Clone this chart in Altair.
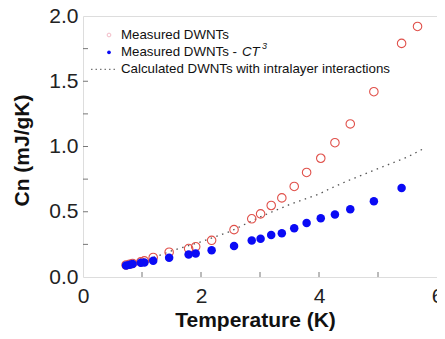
import altair as alt
import pandas as pd

# Measured temperatures (K)
t_red = [0.73, 0.79, 0.84, 0.98, 1.04, 1.19, 1.46, 1.79, 1.91, 2.18, 2.56, 2.86,
         3.01, 3.19, 3.37, 3.58, 3.79, 4.03, 4.27, 4.53, 4.93, 5.40, 5.67]
cn_red = [0.092, 0.098, 0.104, 0.116, 0.124, 0.150, 0.190, 0.218, 0.232, 0.281, 0.363, 0.446,
          0.484, 0.548, 0.606, 0.694, 0.801, 0.910, 1.029, 1.173, 1.420, 1.790, 1.920]

t_blue = [0.73, 0.79, 0.84, 0.98, 1.04, 1.19, 1.46, 1.79, 1.91, 2.18, 2.56, 2.86,
          3.01, 3.19, 3.37, 3.58, 3.79, 4.03, 4.27, 4.53, 4.93, 5.40]
cn_blue = [0.089, 0.094, 0.099, 0.109, 0.112, 0.124, 0.147, 0.173, 0.180, 0.205, 0.238, 0.279,
           0.294, 0.322, 0.335, 0.373, 0.413, 0.451, 0.479, 0.519, 0.580, 0.682]

t_calc = [1.2, 1.5, 2.0, 2.5, 3.0, 3.5, 4.0, 4.2, 4.5, 5.0, 5.5, 5.8]
cn_calc = [0.15, 0.20, 0.27, 0.35, 0.46, 0.555, 0.635, 0.68, 0.74, 0.83, 0.92, 0.99]

x_minor = [1, 2, 3, 4, 5]
y_minor = [0.25, 0.5, 0.75, 1.0, 1.25, 1.5, 1.75]
x_labels = [0, 2, 4, 6]
y_labels = [0.0, 0.5, 1.0, 1.5, 2.0]

legend_labels = ["Measured DWNTs", "Measured DWNTs - ", "Calculated DWNTs with intralayer interactions"]

FONT = "Liberation Sans"
W, H = 354, 261

xs = alt.Scale(domain=[0, 6], nice=False, zero=False)
ys = alt.Scale(domain=[0, 2], nice=False, zero=False)

xaxis = alt.Axis(values=x_labels, format="d", ticks=False, domain=False, grid=False,
                 labelFont=FONT, labelFontSize=21, labelColor="#222", labelPadding=8,
                 labelFlush=False, title="Temperature (K)", titleFont=FONT, titleFontSize=21,
                 titleFontWeight="bold", titleColor="#111", titleX=172, titleY=49,
                 titleBaseline="alphabetic", titleAlign="center")
yaxis = alt.Axis(values=y_labels, format=".1f", ticks=False, domain=False, grid=False,
                 labelFont=FONT, labelFontSize=21, labelColor="#222", labelPadding=5,
                 labelFlush=False, title="Cn (mJ/gK)", titleFont=FONT, titleFontSize=21,
                 titleFontWeight="bold", titleColor="#111", titleX=-55, titleY=134,
                 titleAngle=-90, titleBaseline="alphabetic", titleAlign="center")

df_red = pd.DataFrame({"T": t_red, "Cn": cn_red})
df_blue = pd.DataFrame({"T": t_blue, "Cn": cn_blue})
df_calc = pd.DataFrame({"T": t_calc, "Cn": cn_calc})

calc = alt.Chart(df_calc).mark_line(color="#555", strokeWidth=1.3, strokeDash=[1.5, 4.5]).encode(
    x=alt.X("T:Q", scale=xs, axis=xaxis),
    y=alt.Y("Cn:Q", scale=ys, axis=yaxis),
)
blue = alt.Chart(df_blue).mark_point(filled=True, shape="circle", size=72, color="#0a0af5", opacity=1).encode(
    x=alt.X("T:Q", scale=xs), y=alt.Y("Cn:Q", scale=ys))
red = alt.Chart(df_red).mark_point(filled=False, shape="circle", size=72, color="#e0504a",
                                   strokeWidth=1.1, opacity=1).encode(
    x=alt.X("T:Q", scale=xs), y=alt.Y("Cn:Q", scale=ys))

xt = alt.Chart(pd.DataFrame({"v": x_minor})).mark_rule(color="#777", strokeWidth=1).encode(
    x=alt.X("v:Q", scale=xs), y=alt.value(H), y2=alt.value(H - 5))
yt = alt.Chart(pd.DataFrame({"v": y_minor})).mark_rule(color="#777", strokeWidth=1).encode(
    y=alt.Y("v:Q", scale=ys), x=alt.value(0), x2=alt.value(5))

# Legend
rows_y = [19, 36.3, 53.3]
leg_df = pd.DataFrame({"label": legend_labels, "py": rows_y})
leg_text = alt.Chart(leg_df).mark_text(align="left", baseline="middle", font=FONT, fontSize=13.3,
                                       color="#111").encode(
    x=alt.value(38), y=alt.Y("py:Q", scale=None), text="label:N")
leg_ct = alt.Chart(pd.DataFrame({"t": ["CT"]})).mark_text(
    align="left", baseline="middle", font=FONT, fontSize=13.3, fontStyle="italic", color="#111").encode(
    x=alt.value(159), y=alt.value(rows_y[1]), text="t:N")
leg_3 = alt.Chart(pd.DataFrame({"t": ["3"]})).mark_text(
    align="left", baseline="middle", font=FONT, fontSize=9, fontStyle="italic", color="#111").encode(
    x=alt.value(179), y=alt.value(rows_y[1] - 6), text="t:N")
leg_red = alt.Chart(pd.DataFrame({"a": [0]})).mark_point(
    shape="circle", size=14, color="#f0a0b0", strokeWidth=1, filled=False).encode(
    x=alt.value(26), y=alt.value(rows_y[0]))
leg_blue = alt.Chart(pd.DataFrame({"a": [0]})).mark_point(
    shape="circle", size=14, color="#0a0af5", filled=True, opacity=1).encode(
    x=alt.value(26), y=alt.value(rows_y[1]))
leg_line = alt.Chart(pd.DataFrame({"a": [0]})).mark_rule(
    color="#777", strokeWidth=1.2, strokeDash=[1.5, 3]).encode(
    x=alt.value(8), x2=alt.value(35), y=alt.value(rows_y[2]))

chart = alt.layer(calc, red, blue, xt, yt, leg_text, leg_ct, leg_3, leg_red, leg_blue, leg_line).properties(
    width=W, height=H,
    autosize=alt.AutoSizeParams(type="none"),
    padding={"left": 75, "top": 8, "right": 0, "bottom": 54},
).configure_view(stroke="#888", strokeWidth=1.2).configure(background="white")

chart.save("out.html", embed_options={"renderer": "svg", "actions": False})
